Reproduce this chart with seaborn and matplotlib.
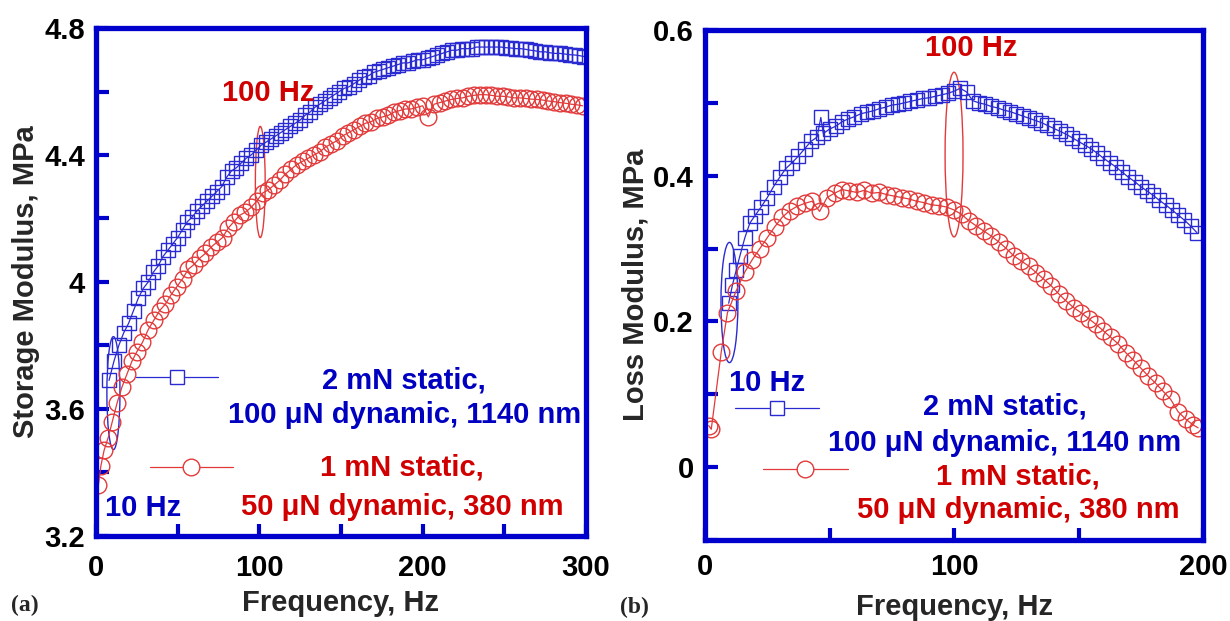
import matplotlib
matplotlib.use("Agg")
import matplotlib.pyplot as plt
import seaborn as sns
import pandas as pd
from matplotlib.patches import Ellipse

# ---------------- data ----------------
# (a) storage modulus, 2 mN static / 100 uN dynamic
storage_2mN_freq = [8, 11, 14, 17, 20, 23, 26, 29, 32, 35, 38, 41, 44, 47, 50, 53, 56, 59, 62, 65,
                    68, 71, 74, 77, 80, 83, 86, 89, 92, 95, 98, 101, 104, 107, 110, 113, 116, 119, 122, 125,
                    128, 131, 134, 137, 140, 143, 146, 149, 152, 155, 158, 161, 164, 167, 170, 173, 176, 179, 182, 185,
                    188, 191, 194, 197, 200, 203, 206, 209, 212, 215, 218, 221, 224, 227, 230, 233, 236, 239, 242, 245,
                    248, 251, 254, 257, 260, 263, 266, 269, 272, 275, 278, 281, 284, 287, 290, 293, 296, 299]
storage_2mN_mpa = [3.69, 3.75, 3.80, 3.84, 3.87, 3.91, 3.95, 3.98, 4.00, 4.03, 4.05, 4.08, 4.10, 4.12, 4.14, 4.165, 4.19, 4.205, 4.225, 4.24,
                   4.255, 4.27, 4.285, 4.30, 4.33, 4.35, 4.36, 4.375, 4.39, 4.40, 4.415, 4.43, 4.44, 4.45, 4.46, 4.47, 4.48, 4.49, 4.50, 4.51,
                   4.525, 4.535, 4.55, 4.56, 4.57, 4.58, 4.59, 4.60, 4.61, 4.615, 4.625, 4.635, 4.645, 4.65, 4.66, 4.665, 4.67, 4.675, 4.68, 4.685,
                   4.69, 4.69, 4.695, 4.70, 4.70, 4.705, 4.71, 4.715, 4.72, 4.725, 4.73, 4.73, 4.735, 4.735, 4.735, 4.74, 4.74, 4.74, 4.74, 4.74,
                   4.74, 4.738, 4.737, 4.735, 4.735, 4.733, 4.73, 4.728, 4.725, 4.725, 4.722, 4.72, 4.72, 4.718, 4.716, 4.715, 4.713, 4.71]

# (a) storage modulus, 1 mN static / 50 uN dynamic
storage_1mN_freq = [1.5, 3, 5, 7.5, 10, 13, 16, 19, 22, 25, 28.5, 32, 35.5, 39, 42.5, 46, 49.5, 53, 56.5, 60,
                    63.5, 67, 70.5, 74, 77.5, 81, 84.5, 88, 91.5, 95, 98.5, 102, 105.5, 109, 112.5, 116, 119.5, 123, 126.5, 130,
                    133.5, 137, 140.5, 144, 147.5, 151, 154.5, 158, 161.5, 165, 168.5, 172, 175.5, 179, 182.5, 186, 189.5, 193, 196.5, 200,
                    203.5, 207, 210.5, 214, 217.5, 221, 224.5, 228, 231.5, 235, 238.5, 242, 245.5, 249, 252.5, 256, 259.5, 263, 266.5, 270,
                    273.5, 277, 280.5, 284, 287.5, 291, 294.5, 298]
storage_1mN_mpa = [3.36, 3.42, 3.47, 3.51, 3.56, 3.62, 3.67, 3.71, 3.75, 3.78, 3.81, 3.85, 3.88, 3.91, 3.93, 3.96, 3.985, 4.01, 4.04, 4.055,
                   4.075, 4.09, 4.11, 4.125, 4.14, 4.17, 4.19, 4.21, 4.22, 4.235, 4.255, 4.28, 4.29, 4.305, 4.32, 4.34, 4.355, 4.37, 4.38, 4.39,
                   4.40, 4.41, 4.425, 4.435, 4.445, 4.46, 4.47, 4.48, 4.49, 4.50, 4.505, 4.515, 4.52, 4.525, 4.535, 4.54, 4.545, 4.545, 4.55, 4.555,
                   4.52, 4.56, 4.565, 4.57, 4.575, 4.578, 4.58, 4.585, 4.588, 4.59, 4.59, 4.588, 4.585, 4.585, 4.583, 4.58, 4.58, 4.578, 4.576, 4.575,
                   4.573, 4.57, 4.568, 4.565, 4.563, 4.56, 4.558, 4.555]

# (b) loss modulus, 2 mN static / 100 uN dynamic
loss_2mN_freq = [9.5, 11, 12.5, 14, 16, 18, 20, 22.5, 25, 27.5, 30, 32.5, 35, 37.5, 40, 42.5, 45, 46.5, 47.5, 50,
                 52.5, 55, 57.5, 60, 62.5, 65, 67.5, 70, 72.5, 75, 77.5, 80, 82.5, 85, 87.5, 90, 92.5, 95, 97.5, 100,
                 102.5, 105, 107.5, 110, 112.5, 115, 117.5, 120, 122.5, 125, 127.5, 130, 132.5, 135, 137.5, 140, 142.5, 145, 147.5, 150,
                 152.5, 155, 157.5, 160, 162.5, 165, 167.5, 170, 172.5, 175, 177.5, 180, 182.5, 185, 187.5, 190, 192.5, 195, 197.5]
loss_2mN_mpa = [0.225, 0.25, 0.27, 0.29, 0.315, 0.335, 0.345, 0.357, 0.37, 0.385, 0.398, 0.41, 0.418, 0.427, 0.437, 0.447, 0.453, 0.48, 0.458, 0.464,
                0.468, 0.474, 0.478, 0.481, 0.485, 0.487, 0.489, 0.492, 0.494, 0.497, 0.498, 0.50, 0.502, 0.504, 0.506, 0.507, 0.509, 0.511, 0.513, 0.516,
                0.52, 0.515, 0.503, 0.50, 0.498, 0.495, 0.493, 0.49, 0.488, 0.485, 0.482, 0.479, 0.476, 0.473, 0.469, 0.465, 0.461, 0.457, 0.452, 0.447,
                0.442, 0.437, 0.431, 0.424, 0.418, 0.412, 0.405, 0.398, 0.392, 0.385, 0.379, 0.373, 0.366, 0.36, 0.353, 0.346, 0.339, 0.331, 0.322]

# (b) loss modulus, 1 mN static / 50 uN dynamic
loss_1mN_freq = [1.5, 2.5, 6.5, 9, 12.5, 16, 19, 22, 25, 28, 31, 34, 37, 40, 43, 46, 49, 52, 55, 58,
                 61, 64, 67, 70, 73, 76, 79, 82, 85, 88, 91, 94, 97, 100, 103, 106, 109, 112, 115, 118,
                 121, 124, 127, 130, 133, 136, 139, 142, 145, 148, 151, 154, 157, 160, 163, 166, 169, 172, 175, 178,
                 181, 184, 187, 190, 193, 196, 198]
loss_1mN_mpa = [0.057, 0.052, 0.158, 0.212, 0.242, 0.268, 0.285, 0.30, 0.315, 0.33, 0.343, 0.352, 0.358, 0.362, 0.365, 0.351, 0.37, 0.376, 0.381, 0.379,
                0.377, 0.38, 0.376, 0.377, 0.374, 0.372, 0.37, 0.368, 0.365, 0.363, 0.36, 0.359, 0.357, 0.353, 0.347, 0.338, 0.331, 0.324, 0.317, 0.309,
                0.30, 0.29, 0.283, 0.276, 0.267, 0.258, 0.249, 0.238, 0.228, 0.219, 0.212, 0.204, 0.196, 0.187, 0.178, 0.169, 0.157, 0.147, 0.136, 0.125,
                0.115, 0.104, 0.093, 0.076, 0.066, 0.058, 0.054]

legend_2mN = ["2 mN static,", "100 \u03bcN dynamic, 1140 nm"]
legend_1mN = ["1 mN static,", "50 \u03bcN dynamic, 380 nm"]

storage_yticks = [3.2, 3.4, 3.6, 3.8, 4.0, 4.2, 4.4, 4.6, 4.8]
storage_ylabels = ["3.2", "", "3.6", "", "4", "", "4.4", "", "4.8"]
storage_xticks = [0, 50, 100, 150, 200, 250, 300]
storage_xlabels = ["0", "", "100", "", "200", "", "300"]
loss_yticks = [-0.1, 0, 0.1, 0.2, 0.3, 0.4, 0.5, 0.6]
loss_ylabels = ["", "0", "", "0.2", "", "0.4", "", "0.6"]
loss_xticks = [0, 50, 100, 150, 200]
loss_xlabels = ["0", "", "100", "", "200"]

# ---------------- styling ----------------
BLUE_FRAME = "#0000CC"
BLUE_DATA = "#2a2ad2"
RED_DATA = "#e23a3a"
BLUE_TEXT = "#0000C0"
RED_TEXT = "#D00000"
FS = 21

sns.set_theme(style="white")
plt.rcParams["font.family"] = ["Liberation Sans", "DejaVu Sans"]
plt.rcParams["font.weight"] = "bold"
plt.rcParams["axes.labelweight"] = "bold"

fig = plt.figure(figsize=(12.3, 6.21), dpi=100)
axL = fig.add_axes([0.078, 0.1369, 0.3984, 0.818])
axR = fig.add_axes([0.5732, 0.1304, 0.4049, 0.8213])


def draw_series(ax, x, y, marker, color, ms):
    df = pd.DataFrame({"f": x, "v": y})
    sns.lineplot(data=df, x="f", y="v", ax=ax, sort=False, estimator=None,
                 color=color, linewidth=0.9, marker=marker, markersize=ms,
                 markerfacecolor="none", markeredgecolor=color, markeredgewidth=1.0)


def legend_sample(ax, x0, x1, xm, y, marker, color, ms):
    ax.plot([x0, x1], [y, y], transform=ax.transAxes, color=color, lw=0.9, clip_on=False)
    ax.plot([xm], [y], transform=ax.transAxes, marker=marker, ms=ms, mfc="white",
            mec=color, mew=1.0, ls="none", clip_on=False)


def style_axes(ax, xticks, xlabels, yticks, ylabels, xlim, ylim, xpad, ylab, xlabpad):
    ax.set_xlim(*xlim)
    ax.set_ylim(*ylim)
    ax.set_xticks(xticks)
    ax.set_xticklabels(xlabels)
    ax.set_yticks(yticks)
    ax.set_yticklabels(ylabels)
    for s in ax.spines.values():
        s.set_visible(True)
        s.set_color(BLUE_FRAME)
        s.set_linewidth(3.8)
    ax.tick_params(axis="both", which="major", direction="in", length=9, width=3,
                   color=BLUE_FRAME, labelsize=FS, labelcolor="black",
                   left=True, bottom=True, top=False, right=False)
    ax.tick_params(axis="x", pad=xpad)
    ax.tick_params(axis="y", pad=8)
    ax.set_xlabel("Frequency, Hz", fontsize=FS, fontweight="bold", labelpad=xlabpad)
    ax.set_ylabel(ylab, fontsize=FS, fontweight="bold", labelpad=3)
    ax.grid(False)


def label(ax, x, y, s, color):
    ax.text(x, y, s, transform=ax.transAxes, color=color, fontsize=FS,
            fontweight="bold", ha="center", va="center")


# ---------------- panel (a) ----------------
draw_series(axL, storage_2mN_freq, storage_2mN_mpa, "s", BLUE_DATA, 9.5)
draw_series(axL, storage_1mN_freq, storage_1mN_mpa, "o", RED_DATA, 12)
style_axes(axL, storage_xticks, storage_xlabels, storage_yticks, storage_ylabels,
           (0, 300), (3.2, 4.8), 13, "Storage Modulus, MPa", 5)
axL.add_patch(Ellipse((100.6, 4.315), 6, 0.35, fill=False, ec=RED_DATA, lw=1.0))
axL.add_patch(Ellipse((10.7, 3.65), 8, 0.356, fill=False, ec=BLUE_DATA, lw=1.0))
label(axL, 0.351, 0.872, "100 Hz", RED_TEXT)
label(axL, 0.096, 0.055, "10 Hz", BLUE_TEXT)
legend_sample(axL, 0.082, 0.249, 0.165, 0.313, "s", BLUE_DATA, 10)
legend_sample(axL, 0.110, 0.280, 0.194, 0.136, "o", RED_DATA, 12)
label(axL, 0.629, 0.307, legend_2mN[0], BLUE_TEXT)
label(axL, 0.629, 0.238, legend_2mN[1], BLUE_TEXT)
label(axL, 0.625, 0.134, legend_1mN[0], RED_TEXT)
label(axL, 0.625, 0.057, legend_1mN[1], RED_TEXT)

# ---------------- panel (b) ----------------
draw_series(axR, loss_2mN_freq, loss_2mN_mpa, "s", BLUE_DATA, 10)
draw_series(axR, loss_1mN_freq, loss_1mN_mpa, "o", RED_DATA, 12)
style_axes(axR, loss_xticks, loss_xlabels, loss_yticks, loss_ylabels,
           (0, 200), (-0.1, 0.6), 9, "Loss Modulus, MPa", 9)
axR.add_patch(Ellipse((100, 0.429), 7.2, 0.226, fill=False, ec=RED_DATA, lw=1.0))
axR.add_patch(Ellipse((9.8, 0.226), 6.8, 0.165, fill=False, ec=BLUE_DATA, lw=1.0))
label(axR, 0.534, 0.965, "100 Hz", RED_TEXT)
label(axR, 0.124, 0.308, "10 Hz", BLUE_TEXT)
legend_sample(axR, 0.060, 0.229, 0.145, 0.259, "s", BLUE_DATA, 10)
legend_sample(axR, 0.116, 0.287, 0.201, 0.139, "o", RED_DATA, 12)
label(axR, 0.602, 0.262, legend_2mN[0], BLUE_TEXT)
label(axR, 0.602, 0.191, legend_2mN[1], BLUE_TEXT)
label(axR, 0.629, 0.124, legend_1mN[0], RED_TEXT)
label(axR, 0.629, 0.058, legend_1mN[1], RED_TEXT)

fig.text(25 / 1230, 1 - 605 / 621, "(a)", family=["Liberation Serif", "DejaVu Serif"],
         fontweight="bold", fontsize=17, ha="center", va="center")
fig.text(634 / 1230, 1 - 607 / 621, "(b)", family=["Liberation Serif", "DejaVu Serif"],
         fontweight="bold", fontsize=17, ha="center", va="center")

fig.savefig("out.png", dpi=100)
